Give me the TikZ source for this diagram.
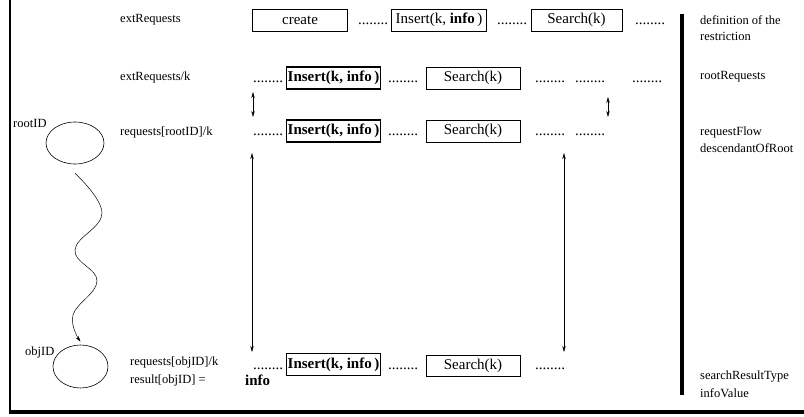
\documentclass[tikz,border=0pt]{standalone}
\usepackage{fontspec}
\setmainfont{Liberation Serif}
\usetikzlibrary{arrows.meta,shapes.geometric}
\newcommand\lblfont{\fontsize{12.5}{15}\selectfont}
\newcommand\opfont{\fontsize{15}{18}\selectfont}
\tikzset{
  lbl/.style={anchor=west,inner sep=0pt,font=\lblfont},
  dots/.style={anchor=base west,inner sep=0pt,font=\opfont},
  opbox/.style={draw,line width=.6pt,inner sep=0pt,minimum width=95pt,minimum height=22pt,font=\opfont},
  insbox/.style={opbox,line width=1.3pt,font=\opfont\bfseries,minimum width=94pt},
  dbl/.style={{Stealth[length=6pt,width=3.5pt]}-{Stealth[length=6pt,width=3.5pt]},line width=.5pt},
  obj/.style={draw,ellipse,line width=.6pt,inner sep=0pt},
}
\begin{document}
\begin{tikzpicture}[x=1pt,y=-1pt]
\useasboundingbox (0,0) rectangle (804,417);
% frame and separator
\draw[line width=2.5pt] (10,0) -- (10,413);
\draw[line width=3.5pt] (8.75,412) -- (804,412);
\draw[line width=4pt] (682,14) -- (682,395);
% row 1
\node[lbl] (ext) at (120,20) {extRequests};
\node[opbox] (create) at (300,20) {create};
\node[dots] (d11) at (358,25) {........};
\node[opbox] (ins1) at (439,20) {Insert(k, \textbf{info}\,)};
\node[dots] (d12) at (497,25) {........};
\node[opbox,minimum width=91pt] (srch1) at (576.5,20) {Search(k)};
\node[dots] (d13) at (635,25) {........};
% row 2
\node[lbl] (extk) at (120,77) {extRequests/k};
\node[dots] (d21) at (253,83) {........};
\node[insbox] (ins2) at (333.5,78) {Insert(k, info\,)};
\node[dots] (d22) at (388,83) {........};
\node[opbox,minimum width=94pt] (srch2) at (473,78) {Search(k)};
\node[dots] (d23) at (535,83) {........};
\node[dots] (d24) at (575,83) {........};
\node[dots] (d25) at (632,83) {........};
% row 3
\node[obj,minimum width=58pt,minimum height=42pt] (root) at (75,143) {};
\node[lbl] (rootlbl) at (13,123) {rootID};
\node[lbl] (reqroot) at (120,132) {requests[rootID]/k};
\node[dots] (d31) at (253,136) {........};
\node[insbox] (ins3) at (333.5,131) {Insert(k, info\,)};
\node[dots] (d32) at (388,136) {........};
\node[opbox,minimum width=94pt] (srch3) at (473,131) {Search(k)};
\node[dots] (d33) at (535,136) {........};
\node[dots] (d34) at (575,136) {........};
% row 4
\node[obj,minimum width=55pt,minimum height=43pt] (obj) at (80.5,366.5) {};
\node[lbl] (objlbl) at (25,352) {objID};
\node[lbl] (reqobj) at (130,362) {requests[objID]/k};
\node[dots] (d41) at (253,369) {........};
\node[insbox] (ins4) at (333.5,364.5) {Insert(k, info\,)};
\node[dots] (d42) at (388,369) {........};
\node[opbox,minimum width=94pt,minimum height=21pt] (srch4) at (473,366) {Search(k)};
\node[dots] (d43) at (535,369) {........};
\node[lbl] (res) at (130,380) {result[objID] =};
\node[lbl,font=\opfont\bfseries] (resinfo) at (245,380) {info};
% right column
\node[lbl] (defn) at (700,20) {definition of the};
\node[lbl] (defn2) at (700,36) {restriction};
\node[lbl] (rootreq) at (700,77) {rootRequests};
\node[lbl] (flow) at (700,132) {requestFlow};
\node[lbl] (desc) at (700,148) {descendantOfRoot};
\node[lbl] (srt) at (700,377) {searchResultType};
\node[lbl] (infov) at (700,393) {infoValue};
% arrows
\coordinate (a1) at (253,92);  \coordinate (b1) at (253,117);
\coordinate (a2) at (608,97);  \coordinate (b2) at (608,117);
\coordinate (a3) at (252,153); \coordinate (b3) at (252,352);
\coordinate (a4) at (564,153); \coordinate (b4) at (564,352);
\draw[dbl] (a1) -- (b1);
\draw[dbl] (a2) -- (b2);
\draw[dbl] (a3) -- (b3);
\draw[dbl] (a4) -- (b4);
\draw[-{Stealth[length=6pt,width=3.5pt]},line width=.5pt] plot[smooth,tension=.7] coordinates
  {([yshift=-9pt]root.south) (102,213) (75,250) (97,281) (73,315) ([yshift=3pt]obj.north)};
\end{tikzpicture}
\end{document}
